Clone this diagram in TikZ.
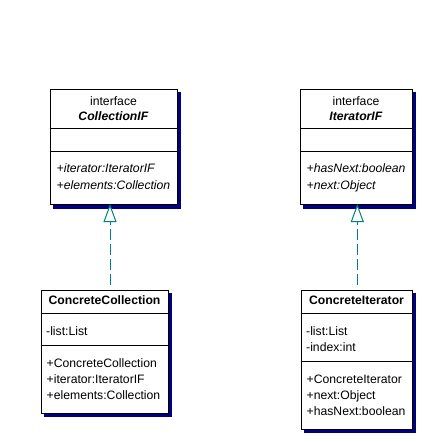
\documentclass[tikz,border=0pt]{standalone}
\usepackage{fontspec}
\setmainfont{Liberation Sans}
\usetikzlibrary{arrows.meta,backgrounds,calc}
\definecolor{navyshadow}{RGB}{0,0,128}
\definecolor{tealline}{RGB}{0,128,128}
\begin{document}
\begin{tikzpicture}[x=1pt,y=-1pt,
  umlbox/.style={draw=black, line width=1pt, fill=white, rectangle, inner sep=0pt},
  shadowfill/.style={fill=navyshadow},
  divider/.style={draw=black, line width=1pt},
  txt/.style={inner sep=0pt, font=\fontsize{12.2}{14}\selectfont},
  realize/.style={draw=tealline, line width=1pt, dash pattern=on 11pt off 4pt,
    -{Triangle[open, length=18pt, width=13pt, fill=white]}}
]
\useasboundingbox (0,0) rectangle (426,443);

% boxes
\node[umlbox, minimum width=127pt, minimum height=115pt] (cif) at (113.5,147.5) {};
\node[umlbox, minimum width=112pt, minimum height=115pt] (itf) at (356,147.5) {};
\node[umlbox, minimum width=127pt, minimum height=123pt] (cc) at (104.5,351.5) {};
\node[umlbox, minimum width=111pt, minimum height=139pt] (ci) at (356.5,359.5) {};

% shadows
\begin{scope}[on background layer]
  \foreach \b in {cif,itf,cc,ci}
    \fill[shadowfill] ($(\b.north west)+(3,3)$) rectangle ($(\b.south east)+(3.5,3.5)$);
\end{scope}

% dividers
\draw[divider] ([yshift=-39.5pt]cif.north west) -- ([yshift=-39.5pt]cif.north east);
\draw[divider] ([yshift=-62pt]cif.north west) -- ([yshift=-62pt]cif.north east);
\draw[divider] ([yshift=-39.5pt]itf.north west) -- ([yshift=-39.5pt]itf.north east);
\draw[divider] ([yshift=-62pt]itf.north west) -- ([yshift=-62pt]itf.north east);
\draw[divider] ([yshift=-23.5pt]cc.north west) -- ([yshift=-23.5pt]cc.north east);
\draw[divider] ([yshift=-56pt]cc.north west) -- ([yshift=-56pt]cc.north east);
\draw[divider] ([yshift=-23.5pt]ci.north west) -- ([yshift=-23.5pt]ci.north east);
\draw[divider] ([yshift=-72pt]ci.north west) -- ([yshift=-72pt]ci.north east);

% CollectionIF texts
\node[txt, anchor=base] (cifa) at (113.5,105.5) {interface};
\node[txt, anchor=base] (cifb) at (113.5,120.5) {\textbf{\textit{CollectionIF}}};
\node[txt, anchor=base west] (cifc) at (56.5,173) {\textit{+iterator:IteratorIF}};
\node[txt, anchor=base west] (cifd) at (56.5,190) {\textit{+elements:Collection}};

% IteratorIF texts
\node[txt, anchor=base] (itfa) at (356,105.5) {interface};
\node[txt, anchor=base] (itfb) at (356,120.5) {\textbf{\textit{IteratorIF}}};
\node[txt, anchor=base west] (itfc) at (306.5,173) {\textit{+hasNext:boolean}};
\node[txt, anchor=base west] (itfd) at (306.5,190) {\textit{+next:Object}};

% ConcreteCollection texts
\node[txt, anchor=base] (cca) at (104.5,304.5) {\textbf{ConcreteCollection}};
\node[txt, anchor=base west] (ccb) at (46,335) {-list:List};
\node[txt, anchor=base west] (ccc) at (46.5,367.3) {+ConcreteCollection};
\node[txt, anchor=base west] (ccd) at (46.5,383.3) {+iterator:IteratorIF};
\node[txt, anchor=base west] (cce) at (46.5,399.3) {+elements:Collection};

% ConcreteIterator texts
\node[txt, anchor=base] (cia) at (356.5,304.5) {\textbf{ConcreteIterator}};
\node[txt, anchor=base west] (cib) at (306,335) {-list:List};
\node[txt, anchor=base west] (cic) at (306,351) {-index:int};
\node[txt, anchor=base west] (cid) at (306.5,383.3) {+ConcreteIterator};
\node[txt, anchor=base west] (cie) at (306.5,399.3) {+next:Object};
\node[txt, anchor=base west] (cif2) at (306.5,415.5) {+hasNext:boolean};

% realization connectors
\draw[realize, shorten <=5pt, shorten >=-1.5pt] ([xshift=5.5pt]cc.north) -- ([xshift=-3.5pt]cif.south);
\draw[realize, shorten <=5pt, shorten >=-1.5pt] ([xshift=0.8pt]ci.north) -- ([xshift=1.3pt]itf.south);
\end{tikzpicture}
\end{document}
